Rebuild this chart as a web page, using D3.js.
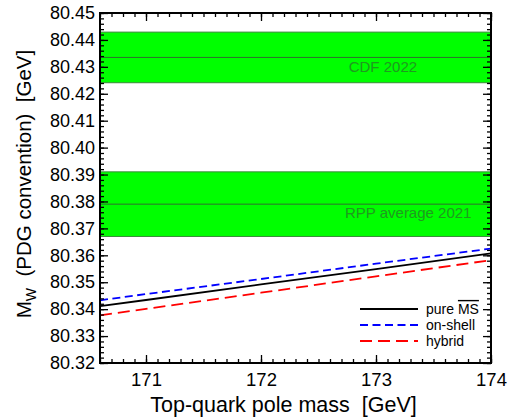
<!DOCTYPE html>
<html>
<head>
<meta charset="utf-8">
<script src="https://cdn.jsdelivr.net/npm/d3@7"></script>
<style>
  body { margin: 0; background: #fff; }
  svg { font-family: "Liberation Sans", Arial, sans-serif; }
  text { white-space: pre; }
</style>
</head>
<body>
<script>
// top-quark pole mass (GeV) at which the curves are read
var mtop = [170.6, 171, 172, 173, 174];

// M_W predictions (GeV) for the three schemes
var pureMS  = [80.3411, 80.3434, 80.3492, 80.3549, 80.3607];
var onShell = [80.3433, 80.3456, 80.3512, 80.3569, 80.3625];
var hybrid  = [80.3377, 80.3401, 80.3461, 80.3522, 80.3582];

// experimental bands: [low, central, high]
var bandNames = ["CDF 2022", "RPP average 2021"];
var bandValues = [[80.4241, 80.4335, 80.4429], [80.367, 80.379, 80.391]];

var xTicks = [171, 172, 173, 174];
var yTicks = [80.32, 80.33, 80.34, 80.35, 80.36, 80.37, 80.38, 80.39, 80.40, 80.41, 80.42, 80.43, 80.44, 80.45];

var margin = {top: 13, right: 33, bottom: 56, left: 100},
    width = 524 - margin.left - margin.right,
    height = 419 - margin.top - margin.bottom;

var svg = d3.select("body").append("svg")
    .attr("width", 524)
    .attr("height", 419)
    .append("g")
    .attr("transform", "translate(" + margin.left + "," + margin.top + ")");

var x = d3.scaleLinear().domain([170.6, 174]).range([0, width]);
var y = d3.scaleLinear().domain([80.32, 80.45]).range([height, 0]);

// bands
bandValues.forEach(function(b, i) {
    svg.append("rect")
        .attr("x", 0)
        .attr("y", y(b[2]))
        .attr("width", width)
        .attr("height", y(b[0]) - y(b[2]))
        .attr("fill", "#00ff00")
        .attr("stroke", "#3a8a3a")
        .attr("stroke-width", 1);
    svg.append("line")
        .attr("x1", 0).attr("x2", width)
        .attr("y1", y(b[1])).attr("y2", y(b[1]))
        .attr("stroke", "#2f6f2f")
        .attr("stroke-width", 1);
});

svg.append("text")
    .attr("x", x(173.06)).attr("y", y(80.43))
    .attr("text-anchor", "middle")
    .attr("dy", "0.35em")
    .attr("fill", "#1f9a1f")
    .style("font-size", "15px")
    .text(bandNames[0]);
svg.append("text")
    .attr("x", x(173.28)).attr("y", y(80.3757))
    .attr("text-anchor", "middle")
    .attr("dy", "0.35em")
    .attr("fill", "#1f9a1f")
    .style("font-size", "15px")
    .text(bandNames[1]);

// curves
var series = [
    {name: "pure", values: pureMS, color: "#000", dash: null},
    {name: "on-shell", values: onShell, color: "#0000ff", dash: "8,4.5"},
    {name: "hybrid", values: hybrid, color: "#ff0000", dash: "12,6"}
];

var line = d3.line()
    .x(function(d, i) { return x(mtop[i]); })
    .y(function(d) { return y(d); });

series.forEach(function(s) {
    svg.append("path")
        .attr("d", line(s.values))
        .attr("fill", "none")
        .attr("stroke", s.color)
        .attr("stroke-width", 1.8)
        .attr("stroke-dasharray", s.dash);
});

// axes with inward ticks, mirrored on all sides
var xMinor = d3.range(170.6, 174.001, 0.1).map(function(v) { return +v.toFixed(1); });
var yMinor = d3.range(80.32, 80.4501, 0.002).map(function(v) { return +v.toFixed(3); });

function tickSet(axisFn, scale, values, size, transform, fmt) {
    var g = svg.append("g")
        .attr("transform", transform)
        .call(axisFn(scale).tickValues(values).tickSize(size).tickFormat(fmt));
    g.select(".domain").remove();
    g.selectAll("line").attr("stroke", "#000").attr("stroke-width", 1.3);
    return g;
}

// bottom
tickSet(d3.axisBottom, x, xMinor, -4, "translate(0," + height + ")", "");
var xb = tickSet(d3.axisBottom, x, xTicks, -8, "translate(0," + height + ")", d3.format("d"));
xb.selectAll("text").attr("y", 10).attr("dy", "0.71em").style("font-size", "18.5px").attr("fill", "#000");
// top
tickSet(d3.axisTop, x, xMinor, -4, "translate(0,0)", "");
tickSet(d3.axisTop, x, xTicks, -8, "translate(0,0)", "");
// left
tickSet(d3.axisLeft, y, yMinor, -4, "translate(0,0)", "");
var yl = tickSet(d3.axisLeft, y, yTicks, -8, "translate(0,0)", d3.format(".2f"));
yl.selectAll("text").attr("x", -5).style("font-size", "18px").attr("fill", "#000");
// right
tickSet(d3.axisRight, y, yMinor, -4, "translate(" + width + ",0)", "");
tickSet(d3.axisRight, y, yTicks, -8, "translate(" + width + ",0)", "");

// frame
svg.append("rect")
    .attr("width", width).attr("height", height)
    .attr("fill", "none")
    .attr("stroke", "#000")
    .attr("stroke-width", 2);

// legend
var legendNames = ["pure ", "on-shell", "hybrid"];
var legend = svg.append("g").attr("transform", "translate(" + (360 - margin.left) + "," + (309 - margin.top) + ")");
series.forEach(function(s, i) {
    var row = legend.append("g").attr("transform", "translate(0," + (i * 16) + ")");
    row.append("line")
        .attr("x1", 0).attr("x2", 58)
        .attr("stroke", s.color)
        .attr("stroke-width", 1.8)
        .attr("stroke-dasharray", s.dash);
    var t = row.append("text")
        .attr("x", 66).attr("dy", "0.35em")
        .style("font-size", "14px")
        .text(legendNames[i]);
    if (i === 0) {
        t.append("tspan").attr("text-decoration", "overline").text("MS");
    }
});

// axis titles
svg.append("text")
    .attr("x", 283.5 - margin.left)
    .attr("y", height + 49)
    .attr("text-anchor", "middle")
    .style("font-size", "21.5px")
    .text("Top-quark pole mass  [GeV]");

var yt = svg.append("text")
    .attr("transform", "translate(" + (-69) + "," + (height / 2 - 4) + ") rotate(-90)")
    .attr("text-anchor", "middle")
    .style("font-size", "20.5px");
yt.append("tspan").text("M");
yt.append("tspan").attr("dy", 5).style("font-size", "14px").text("W");
yt.append("tspan").attr("dy", -5).text("  (PDG convention)  [GeV]");
</script>
</body>
</html>
